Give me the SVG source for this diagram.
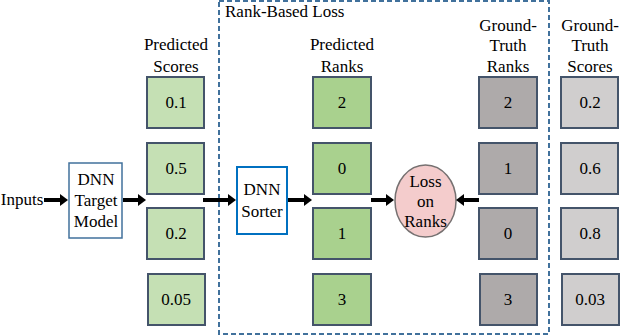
<svg xmlns="http://www.w3.org/2000/svg" width="620" height="336" viewBox="0 0 620 336">
<style>
text{font-family:'Liberation Serif','DejaVu Serif',serif;font-size:17px;fill:#000;text-anchor:middle}
.box{stroke:#44546a;stroke-width:2}
.ps{fill:#c5e0b4}
.pr{fill:#a9d18e}
.gr{fill:#aeaaaa}
.gs{fill:#d0cece}
.arr{stroke:#000;stroke-width:4;fill:none;marker-end:url(#ah)}
</style>
<defs>
<marker id="ah" markerUnits="userSpaceOnUse" viewBox="0 0 8 12" refX="0" refY="6" markerWidth="8" markerHeight="12" orient="auto">
<path d="M0,0 L8,6 L0,12 Z" fill="#000"/>
</marker>
</defs>
<rect id="rank-loss" x="219" y="1" width="330" height="333" fill="none" stroke="#41719c" stroke-width="2" stroke-dasharray="5,3"/>
<text x="225" y="17" style="text-anchor:start">Rank-Based Loss</text>
<g id="labels">
<text x="176" y="50">Predicted</text>
<text x="176" y="72">Scores</text>
<text x="342" y="50">Predicted</text>
<text x="342" y="72">Ranks</text>
<text x="508" y="31">Ground-</text>
<text x="508" y="51">Truth</text>
<text x="508" y="72">Ranks</text>
<text x="590" y="31">Ground-</text>
<text x="590" y="51">Truth</text>
<text x="590" y="72">Scores</text>
</g>
<g id="inputs"><text x="22" y="205">Inputs</text></g>
<g id="dnn-target">
<rect x="69" y="163" width="53" height="75" fill="#fff" stroke="#41719c" stroke-width="1.5"/>
<text x="96" y="185">DNN</text><text x="96" y="206">Target</text><text x="96" y="227">Model</text>
</g>
<g id="pred-scores">
<rect class="box ps" x="147" y="77" width="57" height="51"/><text x="176" y="108">0.1</text>
<rect class="box ps" x="147" y="143" width="57" height="51"/><text x="176" y="174">0.5</text>
<rect class="box ps" x="147" y="208" width="57" height="51"/><text x="176" y="239">0.2</text>
<rect class="box ps" x="148" y="274" width="57" height="51"/><text x="176" y="305">0.05</text>
</g>
<g id="dnn-sorter">
<rect x="237" y="167" width="50" height="67" fill="#fff" stroke="#0070c0" stroke-width="2"/>
<text x="262" y="195">DNN</text><text x="262" y="217">Sorter</text>
</g>
<g id="pred-ranks">
<rect class="box pr" x="313" y="77" width="58" height="51"/><text x="342" y="108">2</text>
<rect class="box pr" x="313" y="143" width="58" height="51"/><text x="342" y="174">0</text>
<rect class="box pr" x="313" y="208" width="58" height="51"/><text x="342" y="239">1</text>
<rect class="box pr" x="313" y="274" width="58" height="51"/><text x="342" y="305">3</text>
</g>
<g id="loss">
<ellipse cx="425.5" cy="201" rx="30.5" ry="36" fill="#f4cccc" stroke="#767171" stroke-width="1.5"/>
<text x="425.5" y="187">Loss</text><text x="425.5" y="207">on</text><text x="425.5" y="227">Ranks</text>
</g>
<g id="gt-ranks">
<rect class="box gr" x="479" y="77" width="58" height="51"/><text x="508" y="108">2</text>
<rect class="box gr" x="479" y="143" width="58" height="51"/><text x="508" y="174">1</text>
<rect class="box gr" x="479" y="208" width="58" height="51"/><text x="508" y="239">0</text>
<rect class="box gr" x="480" y="274" width="57" height="51"/><text x="508" y="305">3</text>
</g>
<g id="gt-scores">
<rect class="box gs" x="561" y="77" width="57" height="51"/><text x="590" y="108">0.2</text>
<rect class="box gs" x="561" y="143" width="57" height="51"/><text x="590" y="174">0.6</text>
<rect class="box gs" x="561" y="208" width="57" height="51"/><text x="590" y="239">0.8</text>
<rect class="box gs" x="562" y="274" width="57" height="51"/><text x="590" y="305">0.03</text>
</g>
<g id="connectors">
<line class="arr" x1="44" y1="200" x2="60" y2="200"/>
<line class="arr" x1="123" y1="200" x2="138" y2="200"/>
<line class="arr" x1="203" y1="200" x2="228" y2="200"/>
<line class="arr" x1="288" y1="200" x2="304" y2="200"/>
<line class="arr" x1="371" y1="200" x2="386" y2="200"/>
<line class="arr" x1="479" y1="200" x2="464" y2="200"/>
</g>
</svg>
